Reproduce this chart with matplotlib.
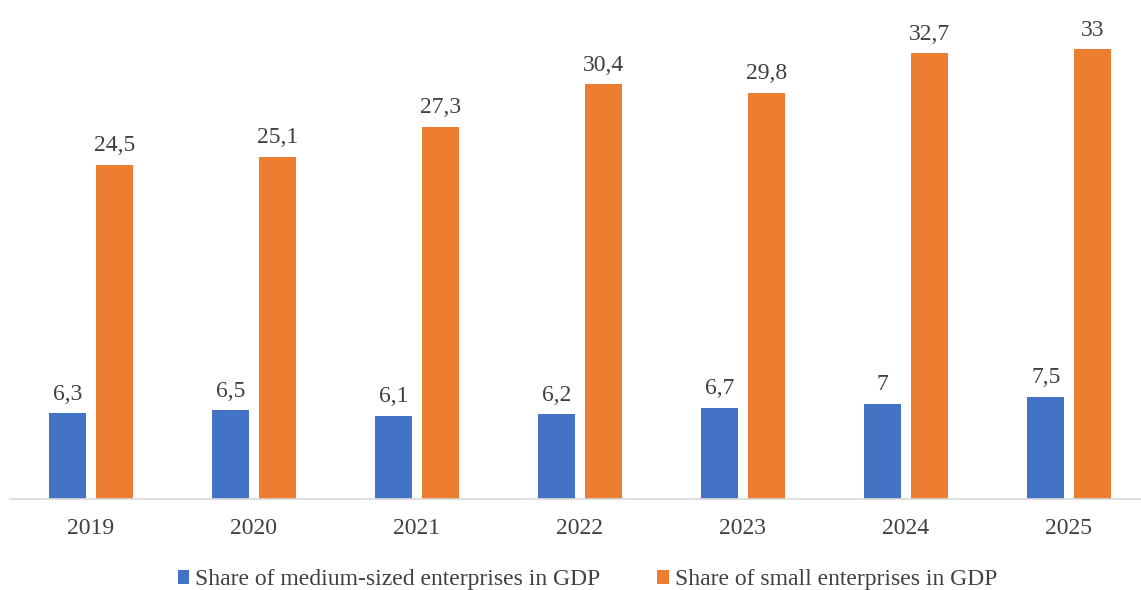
import matplotlib
matplotlib.use("Agg")
import matplotlib.pyplot as plt
import numpy as np

years = ["2019", "2020", "2021", "2022", "2023", "2024", "2025"]
medium = [6.3, 6.5, 6.1, 6.2, 6.7, 7, 7.5]
small = [24.5, 25.1, 27.3, 30.4, 29.8, 32.7, 33]
series_names = ["Share of medium-sized enterprises in GDP", "Share of small enterprises in GDP"]

plt.rcParams['font.family'] = ['Liberation Serif', 'DejaVu Serif']
text_color = "#404040"

fig = plt.figure(figsize=(11.41, 5.90), dpi=100)
ax = fig.add_axes([9.5/1141, 91/590, 1 - 9.5/1141, 499/590])

x = np.arange(len(years))
w = 0.227
off = 0.143
b1 = ax.bar(x - off, medium, w, color="#4472C4", label=series_names[0])
b2 = ax.bar(x + off, small, w, color="#ED7D31", label=series_names[1])

def fmt(v):
    return ("%g" % v).replace(".", ",")

for bars, vals in ((b1, medium), (b2, small)):
    for rect, v in zip(bars, vals):
        ax.annotate(fmt(v), (rect.get_x() + rect.get_width()/2, rect.get_height()),
                    xytext=(0, 6), textcoords="offset points", ha="center", va="bottom",
                    fontsize=17, color=text_color)

ax.set_xlim(-0.5, (1141 - 91) / 163)
ax.set_ylim(0, 499 / 13.64)
ax.set_xticks(x)
ax.set_xticklabels(years, fontsize=17, color=text_color)
ax.tick_params(axis="x", length=0, pad=14)
ax.set_yticks([])
for s in ["top", "right", "left"]:
    ax.spines[s].set_visible(False)
ax.spines["bottom"].set_color("#d9d9d9")
ax.spines["bottom"].set_linewidth(1.2)

leg = fig.legend(handles=[b1, b2], loc="center", bbox_to_anchor=(587.5/1141, 1 - 580/590),
                 ncol=2, frameon=False, fontsize=17, handlelength=0.5, handleheight=0.55,
                 handletextpad=0.25, columnspacing=2.4)
for t in leg.get_texts():
    t.set_color(text_color)

fig.savefig("out.png", dpi=100)
